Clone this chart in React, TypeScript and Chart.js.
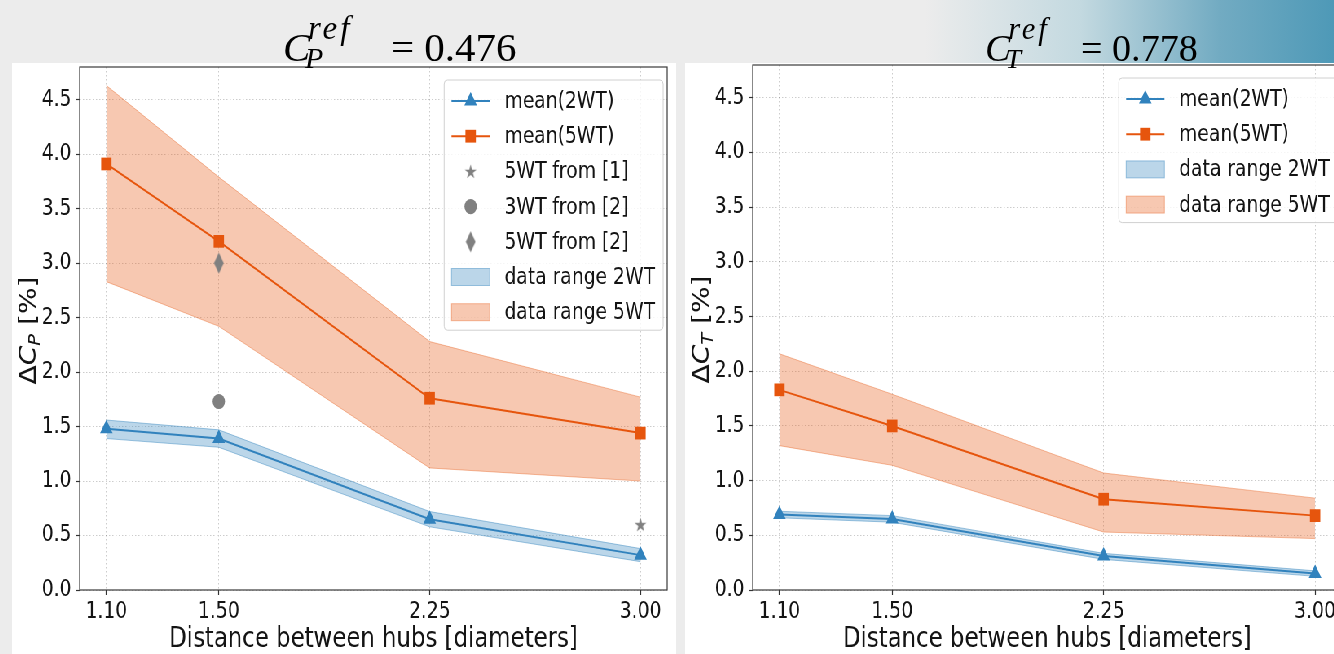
import React, { useEffect, useRef } from "react";
import { Chart, registerables } from "chart.js";
Chart.register(...registerables);

// ---------- data ----------
const xValues = [1.1, 1.5, 2.25, 3.0];
const xTicks = [1.1, 1.5, 2.25, 3.0];
const yTicks = [0, 0.5, 1, 1.5, 2, 2.5, 3, 3.5, 4, 4.5];

// ΔC_P panel
const cpMean2WT = [1.48, 1.39, 0.65, 0.32];
const cpLow2WT = [1.39, 1.31, 0.58, 0.26];
const cpHigh2WT = [1.56, 1.47, 0.72, 0.38];
const cpMean5WT = [3.91, 3.2, 1.76, 1.44];
const cpLow5WT = [2.83, 2.42, 1.12, 1.0];
const cpHigh5WT = [4.63, 3.79, 2.28, 1.77];
const ref1_5WT_x = [3.0];
const ref1_5WT_y = [0.6];
const ref2_3WT_x = [1.5];
const ref2_3WT_y = [1.73];
const ref2_5WT_x = [1.5];
const ref2_5WT_y = [3.0];

// ΔC_T panel
const ctMean2WT = [0.69, 0.65, 0.31, 0.15];
const ctLow2WT = [0.66, 0.62, 0.28, 0.125];
const ctHigh2WT = [0.72, 0.68, 0.335, 0.175];
const ctMean5WT = [1.83, 1.5, 0.83, 0.68];
const ctLow5WT = [1.32, 1.14, 0.53, 0.47];
const ctHigh5WT = [2.16, 1.79, 1.07, 0.84];

const xLabel = "Distance between hubs [diameters]";

// ---------- style ----------
const FONT = '"DejaVu Sans", "Noto Sans", sans-serif';
const SERIF = '"Liberation Serif", "DejaVu Serif", serif';
const SX = 0.815;
const CW = 815;
const CH = 591;
const SHIFT = 7;
const BLUE = "#3182bd";
const ORANGE = "#e6550d";
const GRAY = "#808080";
const BLUE_FILL = "rgba(49,130,189,0.33)";
const ORANGE_FILL = "rgba(230,85,13,0.32)";
const BLUE_EDGE = "rgba(49,130,189,0.45)";
const ORANGE_EDGE = "rgba(230,85,13,0.38)";
const TEXT = "#141414";
const TICK_SIZE = 23;
const LEG_SIZE = 23;

function starPath(ctx: CanvasRenderingContext2D, cx: number, cy: number, R: number) {
  const r = R * 0.382;
  ctx.beginPath();
  for (let i = 0; i < 10; i++) {
    const rad = i % 2 === 0 ? R : r;
    const a = -Math.PI / 2 + (i * Math.PI) / 5;
    const px = cx + rad * Math.cos(a);
    const py = cy + rad * Math.sin(a);
    if (i === 0) ctx.moveTo(px, py);
    else ctx.lineTo(px, py);
  }
  ctx.closePath();
}

function makeStar(): HTMLCanvasElement {
  const c = document.createElement("canvas");
  c.width = 17;
  c.height = 17;
  const ctx = c.getContext("2d")!;
  ctx.fillStyle = GRAY;
  starPath(ctx, 8.5, 9, 7.6);
  ctx.fill();
  return c;
}

function makeDiamond(): HTMLCanvasElement {
  const c = document.createElement("canvas");
  c.width = 13;
  c.height = 23;
  const ctx = c.getContext("2d")!;
  ctx.fillStyle = GRAY;
  ctx.beginPath();
  ctx.moveTo(6.5, 1);
  ctx.lineTo(12.5, 11.5);
  ctx.lineTo(6.5, 22);
  ctx.lineTo(0.5, 11.5);
  ctx.closePath();
  ctx.fill();
  return c;
}

type LegendItem = {
  label: string;
  kind: "line" | "marker" | "patch";
  color?: string;
  marker?: string;
  fill?: string;
  edge?: string;
};

function drawMarker(ctx: CanvasRenderingContext2D, kind: string, x: number, y: number, color: string, imgs: any) {
  ctx.fillStyle = color;
  if (kind === "triangle") {
    const r = 9;
    ctx.beginPath();
    ctx.moveTo(x, y - r);
    ctx.lineTo(x + 0.866 * r, y + 0.5 * r);
    ctx.lineTo(x - 0.866 * r, y + 0.5 * r);
    ctx.closePath();
    ctx.fill();
  } else if (kind === "rect") {
    const h = 6.4;
    ctx.fillRect(x - h, y - h, 2 * h, 2 * h);
  } else if (kind === "circle") {
    ctx.beginPath();
    ctx.arc(x, y, 7.6, 0, Math.PI * 2);
    ctx.fill();
  } else if (kind === "star") {
    const im = imgs.star;
    ctx.drawImage(im, x - im.width / 2, y - im.height / 2);
  } else if (kind === "diamond") {
    const im = imgs.diamond;
    ctx.drawImage(im, x - im.width / 2, y - im.height / 2);
  }
}

function pts(xs: number[], ys: number[]) {
  return xs.map((x, i) => ({ x, y: ys[i] }));
}

type Spec = {
  mean2: number[];
  low2: number[];
  high2: number[];
  mean5: number[];
  low5: number[];
  high5: number[];
  extras: boolean;
  sub: string;
  legend: LegendItem[];
};

function buildConfig(spec: Spec): any {
  const imgs = { star: makeStar(), diamond: makeDiamond() };
  const datasets: any[] = [
    {
      label: "mean(2WT)",
      data: pts(xValues, spec.mean2),
      borderColor: BLUE,
      backgroundColor: BLUE,
      borderWidth: 2,
      pointStyle: "triangle",
      pointRadius: 9,
      pointBorderWidth: 0,
      pointBackgroundColor: BLUE,
      fill: false,
      order: 0,
    },
    {
      label: "mean(5WT)",
      data: pts(xValues, spec.mean5),
      borderColor: ORANGE,
      backgroundColor: ORANGE,
      borderWidth: 2,
      pointStyle: "rect",
      pointRadius: 9,
      pointBorderWidth: 0,
      pointBackgroundColor: ORANGE,
      fill: false,
      order: 0,
    },
    {
      label: "low2",
      data: pts(xValues, spec.low2),
      borderColor: BLUE_EDGE,
      borderWidth: 1,
      pointRadius: 0,
      fill: false,
      order: 10,
    },
    {
      label: "data range 2WT",
      data: pts(xValues, spec.high2),
      borderColor: BLUE_EDGE,
      borderWidth: 1,
      pointRadius: 0,
      backgroundColor: BLUE_FILL,
      fill: 2,
      order: 10,
    },
    {
      label: "low5",
      data: pts(xValues, spec.low5),
      borderColor: ORANGE_EDGE,
      borderWidth: 1,
      pointRadius: 0,
      fill: false,
      order: 9,
    },
    {
      label: "data range 5WT",
      data: pts(xValues, spec.high5),
      borderColor: ORANGE_EDGE,
      borderWidth: 1,
      pointRadius: 0,
      backgroundColor: ORANGE_FILL,
      fill: 4,
      order: 9,
    },
  ];
  if (spec.extras) {
    datasets.push(
      {
        label: "5WT from [1]",
        data: pts(ref1_5WT_x, ref1_5WT_y),
        showLine: false,
        pointStyle: imgs.star,
        pointRadius: 8,
        order: 0,
      },
      {
        label: "3WT from [2]",
        data: pts(ref2_3WT_x, ref2_3WT_y),
        showLine: false,
        pointStyle: "circle",
        pointRadius: 7.6,
        pointBorderWidth: 0,
        pointBackgroundColor: GRAY,
        order: 0,
      },
      {
        label: "5WT from [2]",
        data: pts(ref2_5WT_x, ref2_5WT_y),
        showLine: false,
        pointStyle: imgs.diamond,
        pointRadius: 10,
        order: 0,
      }
    );
  }

  const decor = {
    id: "decor",
    afterDraw(chart: any) {
      const { ctx, chartArea: a } = chart;
      ctx.save();
      // frame
      ctx.strokeStyle = "#3a3a3a";
      ctx.lineWidth = 1.2;
      ctx.strokeRect(a.left, a.top, a.right - a.left, a.bottom - a.top);

      // y title
      ctx.save();
      ctx.translate(18.5, (a.top + a.bottom) / 2 + 2);
      ctx.rotate(-Math.PI / 2);
      ctx.fillStyle = TEXT;
      ctx.textBaseline = "alphabetic";
      const parts = [
        { t: "Δ", f: `28px ${FONT}`, dy: 10 },
        { t: "C", f: `italic 28px ${FONT}`, dy: 10 },
        { t: spec.sub, f: `italic 19.5px ${FONT}`, dy: 15 },
        { t: " [%]", f: `28px ${FONT}`, dy: 10 },
      ];
      let total = 0;
      const widths = parts.map((p) => {
        ctx.font = p.f;
        const w = ctx.measureText(p.t).width;
        total += w;
        return w;
      });
      let px = -total / 2;
      parts.forEach((p, i) => {
        ctx.font = p.f;
        ctx.fillText(p.t, px, p.dy);
        px += widths[i];
      });
      ctx.restore();

      // legend
      const items = spec.legend;
      ctx.font = `${LEG_SIZE}px ${FONT}`;
      const maxW = Math.max(...items.map((it) => ctx.measureText(it.label).width));
      const rowH = 35.2;
      const boxW = 74 + maxW + 10;
      const boxH = 21 + (items.length - 1) * rowH + 18;
      const bx = a.right - 5 - boxW;
      const by = a.top + 13;
      ctx.beginPath();
      const rr = 4;
      ctx.moveTo(bx + rr, by);
      ctx.arcTo(bx + boxW, by, bx + boxW, by + boxH, rr);
      ctx.arcTo(bx + boxW, by + boxH, bx, by + boxH, rr);
      ctx.arcTo(bx, by + boxH, bx, by, rr);
      ctx.arcTo(bx, by, bx + boxW, by, rr);
      ctx.closePath();
      ctx.fillStyle = "rgba(255,255,255,0.8)";
      ctx.fill();
      ctx.strokeStyle = "#d0d0d0";
      ctx.lineWidth = 1;
      ctx.stroke();
      items.forEach((it, i) => {
        const cy = by + 21 + i * rowH;
        const hx0 = bx + 9;
        const hx1 = bx + 56;
        const hc = (hx0 + hx1) / 2;
        if (it.kind === "line") {
          ctx.strokeStyle = it.color!;
          ctx.lineWidth = 2;
          ctx.beginPath();
          ctx.moveTo(hx0, cy);
          ctx.lineTo(hx1, cy);
          ctx.stroke();
          drawMarker(ctx, it.marker!, hc, cy, it.color!, imgs);
        } else if (it.kind === "marker") {
          drawMarker(ctx, it.marker!, hc, cy, GRAY, imgs);
        } else {
          ctx.fillStyle = it.fill!;
          ctx.fillRect(hx0, cy - 8.5, hx1 - hx0, 17);
          ctx.strokeStyle = it.edge!;
          ctx.lineWidth = 1;
          ctx.strokeRect(hx0, cy - 8.5, hx1 - hx0, 17);
        }
        ctx.fillStyle = TEXT;
        ctx.font = `${LEG_SIZE}px ${FONT}`;
        ctx.textBaseline = "middle";
        ctx.textAlign = "left";
        ctx.fillText(it.label, bx + 74, cy + 1);
      });
      ctx.restore();
    },
  };

  const gridCommon = {
    color: "rgba(0,0,0,0.2)",
    lineWidth: 1,
    drawTicks: true,
    tickLength: 5,
    tickColor: "#333",
    tickWidth: 1.2,
    tickBorderDash: [],
  };

  return {
    type: "line",
    data: { datasets },
    plugins: [decor],
    options: {
      animation: false,
      responsive: false,
      devicePixelRatio: 1,
      layout: { padding: { top: 2, right: 5, left: 0, bottom: 0 } },
      plugins: { legend: { display: false }, tooltip: { enabled: false }, title: { display: false } },
      scales: {
        x: {
          type: "linear",
          min: 1.005,
          max: 3.095,
          afterBuildTicks: (s: any) => {
            s.ticks = xTicks.map((v) => ({ value: v }));
          },
          afterFit: (s: any) => {
            s.height = 64;
            s.paddingLeft = 0;
            s.paddingRight = 0;
          },
          ticks: {
            font: { family: FONT, size: TICK_SIZE },
            color: TEXT,
            padding: 3,
            maxRotation: 0,
            autoSkip: false,
            callback: (v: any) => Number(v).toFixed(2),
          },
          grid: gridCommon,
          border: { display: false, dash: [1.5, 2.5] },
          title: {
            display: true,
            text: xLabel,
            font: { family: FONT, size: 28 },
            color: TEXT,
            padding: { top: 0, bottom: -3 },
          },
        },
        y: {
          type: "linear",
          min: 0,
          max: 4.8,
          afterBuildTicks: (s: any) => {
            s.ticks = yTicks.map((v) => ({ value: v }));
          },
          afterFit: (s: any) => {
            s.width = 83;
            s.paddingTop = 0;
            s.paddingBottom = 0;
          },
          ticks: {
            font: { family: FONT, size: TICK_SIZE },
            color: TEXT,
            padding: 5,
            callback: (v: any) => Number(v).toFixed(1),
          },
          grid: gridCommon,
          border: { display: false, dash: [1.5, 2.5] },
        },
      },
    },
  };
}

const legendCP: LegendItem[] = [
  { label: "mean(2WT)", kind: "line", color: BLUE, marker: "triangle" },
  { label: "mean(5WT)", kind: "line", color: ORANGE, marker: "rect" },
  { label: "5WT from [1]", kind: "marker", marker: "star" },
  { label: "3WT from [2]", kind: "marker", marker: "circle" },
  { label: "5WT from [2]", kind: "marker", marker: "diamond" },
  { label: "data range 2WT", kind: "patch", fill: BLUE_FILL, edge: BLUE_EDGE },
  { label: "data range 5WT", kind: "patch", fill: ORANGE_FILL, edge: ORANGE_EDGE },
];
const legendCT: LegendItem[] = [
  { label: "mean(2WT)", kind: "line", color: BLUE, marker: "triangle" },
  { label: "mean(5WT)", kind: "line", color: ORANGE, marker: "rect" },
  { label: "data range 2WT", kind: "patch", fill: BLUE_FILL, edge: BLUE_EDGE },
  { label: "data range 5WT", kind: "patch", fill: ORANGE_FILL, edge: ORANGE_EDGE },
];

function Panel({ left, spec }: { left: number; spec: Spec }) {
  const ref = useRef<HTMLCanvasElement>(null);
  useEffect(() => {
    const chart = new Chart(ref.current!, buildConfig(spec));
    return () => chart.destroy();
  }, []);
  const h = CH + SHIFT;
  return (
    <div
      style={{
        position: "absolute",
        left,
        top: 63,
        width: CW,
        height: CH,
        overflow: "hidden",
        transform: `scaleX(${SX})`,
        transformOrigin: "0 0",
        background: "#ffffff",
      }}
    >
      <canvas
        ref={ref}
        width={CW}
        height={h}
        style={{ display: "block", position: "absolute", left: 0, top: -SHIFT, width: CW, height: h }}
      />
    </div>
  );
}

function Piece({ x, base, size, italic, text, ls }: any) {
  return (
    <div
      style={{
        position: "absolute",
        left: x,
        top: base - 0.8375 * size,
        fontSize: size,
        lineHeight: 1,
        fontFamily: SERIF,
        fontStyle: italic ? "italic" : "normal",
        whiteSpace: "nowrap",
        color: "#000",
        letterSpacing: ls || 0,
      }}
    >
      {text}
    </div>
  );
}

function MathTitle({ x, sub, value, k, eq }: { x: number; sub: string; value: string; k: number; eq: number }) {
  return (
    <div style={{ position: "absolute", left: 0, top: 0, zIndex: 5 }}>
      <Piece x={x} base={61} size={41 * k} italic text="C" />
      <Piece x={x + 25 * k} base={40} size={33 * k} italic text="ref" ls={3 * k} />
      <Piece x={x + 22 * k} base={68} size={30 * k} italic text={sub} />
      <Piece x={x + eq} base={61} size={41 * k} text={`= ${value}`} />
    </div>
  );
}

export default function App() {
  const cp: Spec = {
    mean2: cpMean2WT,
    low2: cpLow2WT,
    high2: cpHigh2WT,
    mean5: cpMean5WT,
    low5: cpLow5WT,
    high5: cpHigh5WT,
    extras: true,
    sub: "P",
    legend: legendCP,
  };
  const ct: Spec = {
    mean2: ctMean2WT,
    low2: ctLow2WT,
    high2: ctHigh2WT,
    mean5: ctMean5WT,
    low5: ctLow5WT,
    high5: ctHigh5WT,
    extras: false,
    sub: "T",
    legend: legendCT,
  };
  return (
    <div
      style={{
        position: "fixed",
        left: 0,
        top: 0,
        width: 1334,
        height: 654,
        overflow: "hidden",
        background: "#ececec",
      }}
    >
      <div
        style={{
          position: "absolute",
          left: 925,
          top: 0,
          width: 409,
          height: 64,
          background: "linear-gradient(to right, #ececec 0%, #c3d9e0 38%, #72abc2 72%, #4e99b7 100%)",
        }}
      />
      <Panel left={12} spec={cp} />
      <Panel left={685} spec={ct} />
      <MathTitle x={283} sub="P" value="0.476" k={1} eq={108} />
      <MathTitle x={985} sub="T" value="0.778" k={0.93} eq={96} />
    </div>
  );
}
